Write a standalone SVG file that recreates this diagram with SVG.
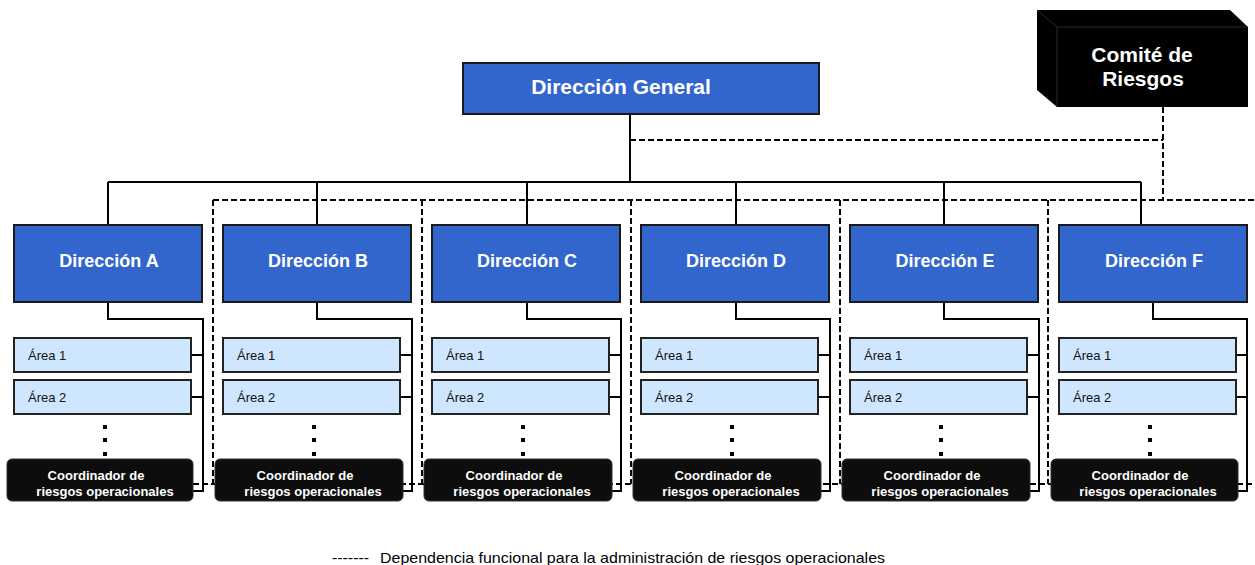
<svg xmlns="http://www.w3.org/2000/svg" width="1255" height="565" viewBox="0 0 1255 565">
  <style>
    .dir { fill: #3366cc; stroke: #1a1a1a; stroke-width: 2; }
    .area { fill: #cfe6ff; stroke: #222; stroke-width: 2; }
    .coord { fill: #0d0d0d; stroke: #333; stroke-width: 1; }
    .solid { fill: none; stroke: #000; stroke-width: 2; }
    .dash { fill: none; stroke: #000; stroke-width: 2; stroke-dasharray: 6 3; }
    .t-dir { font-family: "Liberation Sans", Arial, sans-serif; font-weight: bold; font-size: 18px; fill: #fff; text-anchor: middle; }
    .t-big { font-family: "Liberation Sans", Arial, sans-serif; font-weight: bold; font-size: 21px; fill: #fff; text-anchor: middle; }
    .t-area { font-family: "Liberation Sans", Arial, sans-serif; font-size: 13px; fill: #111; }
    .t-coord { font-family: "Liberation Sans", Arial, sans-serif; font-weight: bold; font-size: 13px; fill: #fff; text-anchor: middle; }
    .t-legend { font-family: "Liberation Sans", Arial, sans-serif; font-size: 15px; fill: #000; }
  </style>
  <defs>
    <!-- one column: area boxes and the continuation dots -->
    <g id="column">
      <rect class="area" x="14" y="338" width="177" height="34"/>
      <text class="t-area" x="28" y="360">Área 1</text>
      <rect class="area" x="14" y="380" width="177" height="34"/>
      <text class="t-area" x="28" y="402">Área 2</text>
      <rect x="103" y="425" width="4" height="4" fill="#000"/>
      <rect x="103" y="438" width="4" height="4" fill="#000"/>
      <rect x="103" y="452" width="4" height="4" fill="#000"/>
    </g>
  </defs>

  <!-- connectors -->
  <g id="connectors">
    <!-- hierarchy (solid) -->
    <path class="solid" d="M630 114 V182 M108 182 H1141 M108 182 V225 M317 182 V225 M527 182 V225 M736 182 V225 M944 182 V225 M1141 182 V225"/>
    <path class="solid" d="M108 302 V319 H203 V491 H193 M191 355 H203 M191 397 H203"/>
    <path class="solid" d="M317 302 V319 H412 V491 H402 M400 355 H412 M400 397 H412"/>
    <path class="solid" d="M527 302 V319 H621 V491 H611 M609 355 H621 M609 397 H621"/>
    <path class="solid" d="M736 302 V319 H830 V491 H820 M818 355 H830 M818 397 H830"/>
    <path class="solid" d="M944 302 V319 H1039 V491 H1029 M1027 355 H1039 M1027 397 H1039"/>
    <path class="solid" d="M1153 302 V319 H1247 V491 H1237 M1235 355 H1247 M1235 397 H1247"/>
    <!-- functional dependency (dashed) -->
    <path class="dash" d="M630 140 H1163 M1163 107 V200 M213 200 H1255"/>
    <path class="dash" d="M213 200 V484 M422 200 V484 M631 200 V484 M840 200 V484 M1048 200 V484"/>
    <path class="dash" d="M193 484 H1255"/>
  </g>

  <!-- top management -->
  <g id="direccion-general">
    <rect class="dir" x="463" y="63" width="356" height="51"/>
    <text class="t-big" x="621" y="94">Dirección General</text>
  </g>

  <g id="comite-riesgos">
    <polygon points="1037,10 1230,10 1248,27 1248,107 1057,107 1037,90" fill="#000"/>
    <path d="M1037 10 L1057 27 H1248 M1057 27 V107" fill="none" stroke="#2a2a2a" stroke-width="1"/>
    <text class="t-big" x="1142" y="62">Comité de</text>
    <text class="t-big" x="1143" y="86">Riesgos</text>
  </g>

  <!-- directions -->
  <g id="direccion-a">
    <rect class="dir" x="14" y="225" width="188" height="77"/>
    <text class="t-dir" x="109" y="267">Dirección A</text>
  </g>
  <g id="direccion-b">
    <rect class="dir" x="223" y="225" width="188" height="77"/>
    <text class="t-dir" x="318" y="267">Dirección B</text>
  </g>
  <g id="direccion-c">
    <rect class="dir" x="432" y="225" width="188" height="77"/>
    <text class="t-dir" x="527" y="267">Dirección C</text>
  </g>
  <g id="direccion-d">
    <rect class="dir" x="641" y="225" width="188" height="77"/>
    <text class="t-dir" x="736" y="267">Dirección D</text>
  </g>
  <g id="direccion-e">
    <rect class="dir" x="850" y="225" width="188" height="77"/>
    <text class="t-dir" x="945" y="267">Dirección E</text>
  </g>
  <g id="direccion-f">
    <rect class="dir" x="1059" y="225" width="188" height="77"/>
    <text class="t-dir" x="1154" y="267">Dirección F</text>
  </g>

  <!-- areas -->
  <g id="areas-a"><use href="#column"/></g>
  <g id="areas-b"><use href="#column" x="209"/></g>
  <g id="areas-c"><use href="#column" x="418"/></g>
  <g id="areas-d"><use href="#column" x="627"/></g>
  <g id="areas-e"><use href="#column" x="836"/></g>
  <g id="areas-f"><use href="#column" x="1045"/></g>

  <!-- risk coordinators -->
  <g id="coordinador-a">
    <rect class="coord" x="7" y="459" width="186" height="42" rx="5"/>
    <text class="t-coord" x="96" y="480">Coordinador de</text>
    <text class="t-coord" x="105" y="496">riesgos operacionales</text>
  </g>
  <g id="coordinador-b">
    <rect class="coord" x="215" y="459" width="188" height="42" rx="5"/>
    <text class="t-coord" x="305" y="480">Coordinador de</text>
    <text class="t-coord" x="313" y="496">riesgos operacionales</text>
  </g>
  <g id="coordinador-c">
    <rect class="coord" x="424" y="459" width="188" height="42" rx="5"/>
    <text class="t-coord" x="514" y="480">Coordinador de</text>
    <text class="t-coord" x="522" y="496">riesgos operacionales</text>
  </g>
  <g id="coordinador-d">
    <rect class="coord" x="633" y="459" width="188" height="42" rx="5"/>
    <text class="t-coord" x="723" y="480">Coordinador de</text>
    <text class="t-coord" x="731" y="496">riesgos operacionales</text>
  </g>
  <g id="coordinador-e">
    <rect class="coord" x="842" y="459" width="188" height="42" rx="5"/>
    <text class="t-coord" x="932" y="480">Coordinador de</text>
    <text class="t-coord" x="940" y="496">riesgos operacionales</text>
  </g>
  <g id="coordinador-f">
    <rect class="coord" x="1051" y="459" width="187" height="42" rx="5"/>
    <text class="t-coord" x="1140" y="480">Coordinador de</text>
    <text class="t-coord" x="1148" y="496">riesgos operacionales</text>
  </g>

  <!-- legend -->
  <g id="legend">
    <text class="t-legend" x="332" y="563" textLength="37" lengthAdjust="spacingAndGlyphs">-------</text>
    <text class="t-legend" x="380" y="563" textLength="505" lengthAdjust="spacingAndGlyphs">Dependencia funcional para la administración de riesgos operacionales</text>
  </g>
</svg>
